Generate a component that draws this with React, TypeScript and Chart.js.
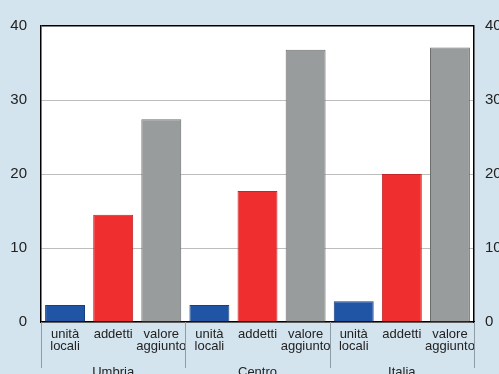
import React, { useEffect, useRef } from "react";
import { Chart, registerables } from "chart.js";

Chart.register(...registerables);

const groups = ["Umbria", "Centro", "Italia"];
const subLabels: (string | string[])[] = [["unità", "locali"], "addetti", ["valore", "aggiunto"]];
const unitaLocali = [2.3, 2.3, 2.8];
const addetti = [14.5, 17.7, 20.0];
const valoreAggiunto = [27.4, 36.8, 37.1];
const yTicks = [0, 10, 20, 30, 40];

const seriesColors = ["#1f55a4", "#ee2e2f", "#999c9c"];
const seriesBorders = ["#1a3f7c", "#c42525", "#6c6e6e"];

export default function App() {
  const ref = useRef<HTMLCanvasElement>(null);

  useEffect(() => {
    document.body.style.margin = "0";
    const labels: (string | string[])[] = [];
    const values: number[] = [];
    const bg: string[] = [];
    const bd: string[] = [];
    groups.forEach((_, gi) => {
      const vals = [unitaLocali[gi], addetti[gi], valoreAggiunto[gi]];
      subLabels.forEach((l, si) => {
        labels.push(l);
        values.push(vals[si]);
        bg.push(seriesColors[si]);
        bd.push(seriesBorders[si]);
      });
    });

    const groupPlugin = {
      id: "groupPlugin",
      beforeDraw(chart: any) {
        const ctx = chart.ctx;
        const a = chart.chartArea;
        ctx.save();
        ctx.fillStyle = "#ffffff";
        ctx.fillRect(a.left, a.top, a.right - a.left, a.bottom - a.top);
        ctx.restore();
      },
      afterDraw(chart: any) {
        const ctx = chart.ctx;
        const x = chart.scales.x;
        const area = chart.chartArea;
        const n = labels.length;
        const half = (x.getPixelForValue(1) - x.getPixelForValue(0)) / 2;
        ctx.save();
        ctx.strokeStyle = "#8d9ca6";
        ctx.lineWidth = 1;
        for (let i = 0; i <= n; i += 3) {
          const px = i < n ? x.getPixelForValue(i) - half : x.getPixelForValue(n - 1) + half;
          ctx.beginPath();
          ctx.moveTo(Math.round(px) + 0.5, area.bottom);
          ctx.lineTo(Math.round(px) + 0.5, area.bottom + 46);
          ctx.stroke();
        }
        ctx.fillStyle = "#222";
        ctx.font = "13px 'Liberation Sans', Arial, sans-serif";
        ctx.textAlign = "center";
        ctx.textBaseline = "top";
        groups.forEach((g, gi) => {
          const px = x.getPixelForValue(gi * 3 + 1);
          ctx.fillText(g, px, area.bottom + 44);
        });
        ctx.restore();
      },
    };

    const font = { family: "'Liberation Sans', Arial, sans-serif" };

    const chart = new Chart(ref.current!, {
      type: "bar",
      data: {
        labels,
        datasets: [
          {
            data: values,
            backgroundColor: bg,
            borderColor: bd,
            borderWidth: 1,
            barPercentage: 0.83,
            categoryPercentage: 1,
          },
        ],
      },
      options: {
        animation: false,
        responsive: true,
        maintainAspectRatio: false,
        layout: { padding: { top: 26, left: 0, right: 0, bottom: 0 } },
        plugins: { legend: { display: false }, tooltip: { enabled: false } },
        scales: {
          x: {
            grid: { display: false },
            border: { display: true, color: "#000", width: 1.5 },
            ticks: {
              color: "#222",
              padding: -2,
              maxRotation: 0,
              autoSkip: false,
              font: { ...font, size: 13, lineHeight: 0.92 },
            },
            afterFit: (s: any) => {
              s.height = 52;
            },
          },
          y: {
            position: "left",
            min: 0,
            max: 40,
            afterBuildTicks: (s: any) => {
              s.ticks = yTicks.map((v) => ({ value: v }));
            },
            grid: {
              color: (c: any) => (c.tick && c.tick.value === 40 ? "#000" : "#bdbdbd"),
              lineWidth: (c: any) => (c.tick && c.tick.value === 40 ? 1.5 : 1),
              drawTicks: false,
              tickLength: 0,
            },
            border: { display: true, color: "#000", width: 1.5 },
            ticks: { color: "#222", padding: 14, font: { ...font, size: 15 } },
            afterFit: (s: any) => {
              s.width = 41;
            },
          },
          y2: {
            position: "right",
            min: 0,
            max: 40,
            afterBuildTicks: (s: any) => {
              s.ticks = yTicks.map((v) => ({ value: v }));
            },
            grid: { display: false, drawTicks: false, tickLength: 0 },
            border: { display: true, color: "#000", width: 1.5 },
            ticks: { color: "#222", padding: 11, font: { ...font, size: 15 } },
            afterFit: (s: any) => {
              s.width = 25;
            },
          },
        },
      },
      plugins: [groupPlugin],
    });
    return () => chart.destroy();
  }, []);

  return (
    <div style={{ width: 499, height: 374, background: "#d3e4ee", position: "relative" }}>
      <canvas ref={ref} />
    </div>
  );
}
